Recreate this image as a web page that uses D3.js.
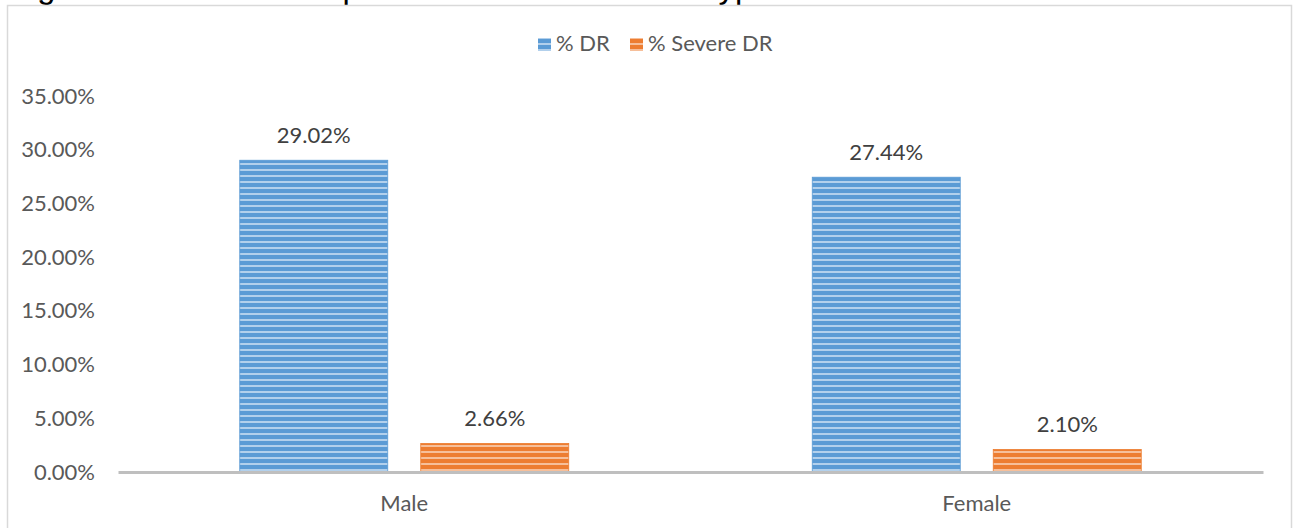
<!DOCTYPE html>
<html>
<head>
<meta charset="utf-8">
<script src="https://cdn.jsdelivr.net/npm/d3@7"></script>
<style>
  html, body { margin: 0; padding: 0; background: #fff; }
  svg { display: block; }
</style>
</head>
<body>
<svg id="chart" width="1297" height="528"></svg>
<script>
// Gender-wise prevalence of diabetic retinopathy
const categories = ["Male", "Female"];
const seriesNames = ["% DR", "% Severe DR"];
const drValues = [29.02, 27.44];
const severeDrValues = [2.66, 2.10];
const yTicks = [0, 5, 10, 15, 20, 25, 30, 35];
const titleText = "Figure 4: Gender-wise prevalence of DR and its type";

const seriesValues = [drValues, severeDrValues];
const colors = ["#5b9bd5", "#ed7d31"];
const stripeColors = ["#a9cbea", "#f5b88e"];
const font = "Lato, 'Open Sans', sans-serif";
const fontSize = 22;

const svg = d3.select("#chart");
const plot = { left: 118, right: 1263, top: 96, bottom: 472 };

// striped fills
const defs = svg.append("defs");
colors.forEach((c, i) => {
  const p = defs.append("pattern")
    .attr("id", "stripe" + i)
    .attr("patternUnits", "userSpaceOnUse")
    .attr("width", 8).attr("height", 6);
  p.append("rect").attr("width", 8).attr("height", 6).attr("fill", c);
  p.append("rect").attr("y", 1).attr("width", 8).attr("height", 2).attr("fill", stripeColors[i]);
  p.append("rect").attr("y", 1.6).attr("width", 8).attr("height", 0.8).attr("fill", "#ffffff").attr("opacity", 0.25);
});

// title line sitting above the chart frame
svg.append("text")
  .attr("x", 10).attr("y", -2)
  .attr("font-family", "'Liberation Sans', Arial, sans-serif")
  .attr("font-size", 32.7)
  .attr("fill", "#000")
  .text(titleText);

// chart frame
svg.append("rect")
  .attr("x", 7.5).attr("y", 5.5)
  .attr("width", 1284).attr("height", 540)
  .attr("fill", "none")
  .attr("stroke", "#d9d9d9")
  .attr("stroke-width", 1.5);

const x0 = d3.scaleBand()
  .domain(categories)
  .range([plot.left, plot.right])
  .paddingInner(0)
  .paddingOuter(0);

const groupWidth = 329;
const x1 = d3.scaleBand()
  .domain(d3.range(seriesNames.length))
  .range([0, groupWidth])
  .paddingInner(33 / 181)
  .paddingOuter(0);

const y = d3.scaleLinear().domain([0, 35]).range([plot.bottom, plot.top]);

// y axis labels
const yAxis = d3.axisLeft(y)
  .tickValues(yTicks)
  .tickSize(0)
  .tickPadding(0)
  .tickFormat(d => d3.format(".2f")(d) + "%");
const yg = svg.append("g")
  .attr("transform", `translate(${95},0)`)
  .call(yAxis);
yg.select(".domain").remove();
yg.selectAll("text")
  .attr("font-family", font)
  .attr("font-size", fontSize)
  .attr("fill", "#595959");

// bars
const groups = svg.append("g").selectAll("g")
  .data(categories)
  .join("g")
  .attr("transform", d => `translate(${x0(d) + (x0.bandwidth() - groupWidth) / 2},0)`);

groups.selectAll("rect")
  .data((d, ci) => seriesValues.map((vals, si) => ({ si, v: vals[ci] })))
  .join("rect")
  .attr("x", d => x1(d.si))
  .attr("width", x1.bandwidth())
  .attr("y", d => y(d.v))
  .attr("height", d => y(0) - y(d.v))
  .attr("fill", d => `url(#stripe${d.si})`)
  .attr("stroke", d => colors[d.si])
  .attr("stroke-width", 0.8);

groups.selectAll("text.val")
  .data((d, ci) => seriesValues.map((vals, si) => ({ si, v: vals[ci] })))
  .join("text")
  .attr("class", "val")
  .attr("x", d => x1(d.si) + x1.bandwidth() / 2)
  .attr("y", d => y(d.v) - 17)
  .attr("text-anchor", "middle")
  .attr("font-family", font)
  .attr("font-size", fontSize)
  .attr("fill", "#404040")
  .text(d => d3.format(".2f")(d.v) + "%");

// x axis
const xAxis = d3.axisBottom(x0).tickSize(0).tickPadding(0);
const xg = svg.append("g")
  .attr("transform", `translate(0,${plot.bottom})`)
  .call(xAxis);
xg.select(".domain")
  .attr("stroke", "#bfbfbf")
  .attr("stroke-width", 3);
xg.selectAll("text")
  .attr("dy", 0)
  .attr("y", 39)
  .attr("font-family", font)
  .attr("font-size", fontSize)
  .attr("fill", "#595959");

// legend
const legend = svg.append("g");
const legendX = [538, 630];
seriesNames.forEach((name, i) => {
  legend.append("rect")
    .attr("x", legendX[i]).attr("y", 38)
    .attr("width", 13).attr("height", 13)
    .attr("fill", `url(#stripe${i})`);
  legend.append("text")
    .attr("x", legendX[i] + 18).attr("y", 51)
    .attr("font-family", font)
    .attr("font-size", fontSize)
    .attr("fill", "#595959")
    .text(name);
});
</script>
</body>
</html>
